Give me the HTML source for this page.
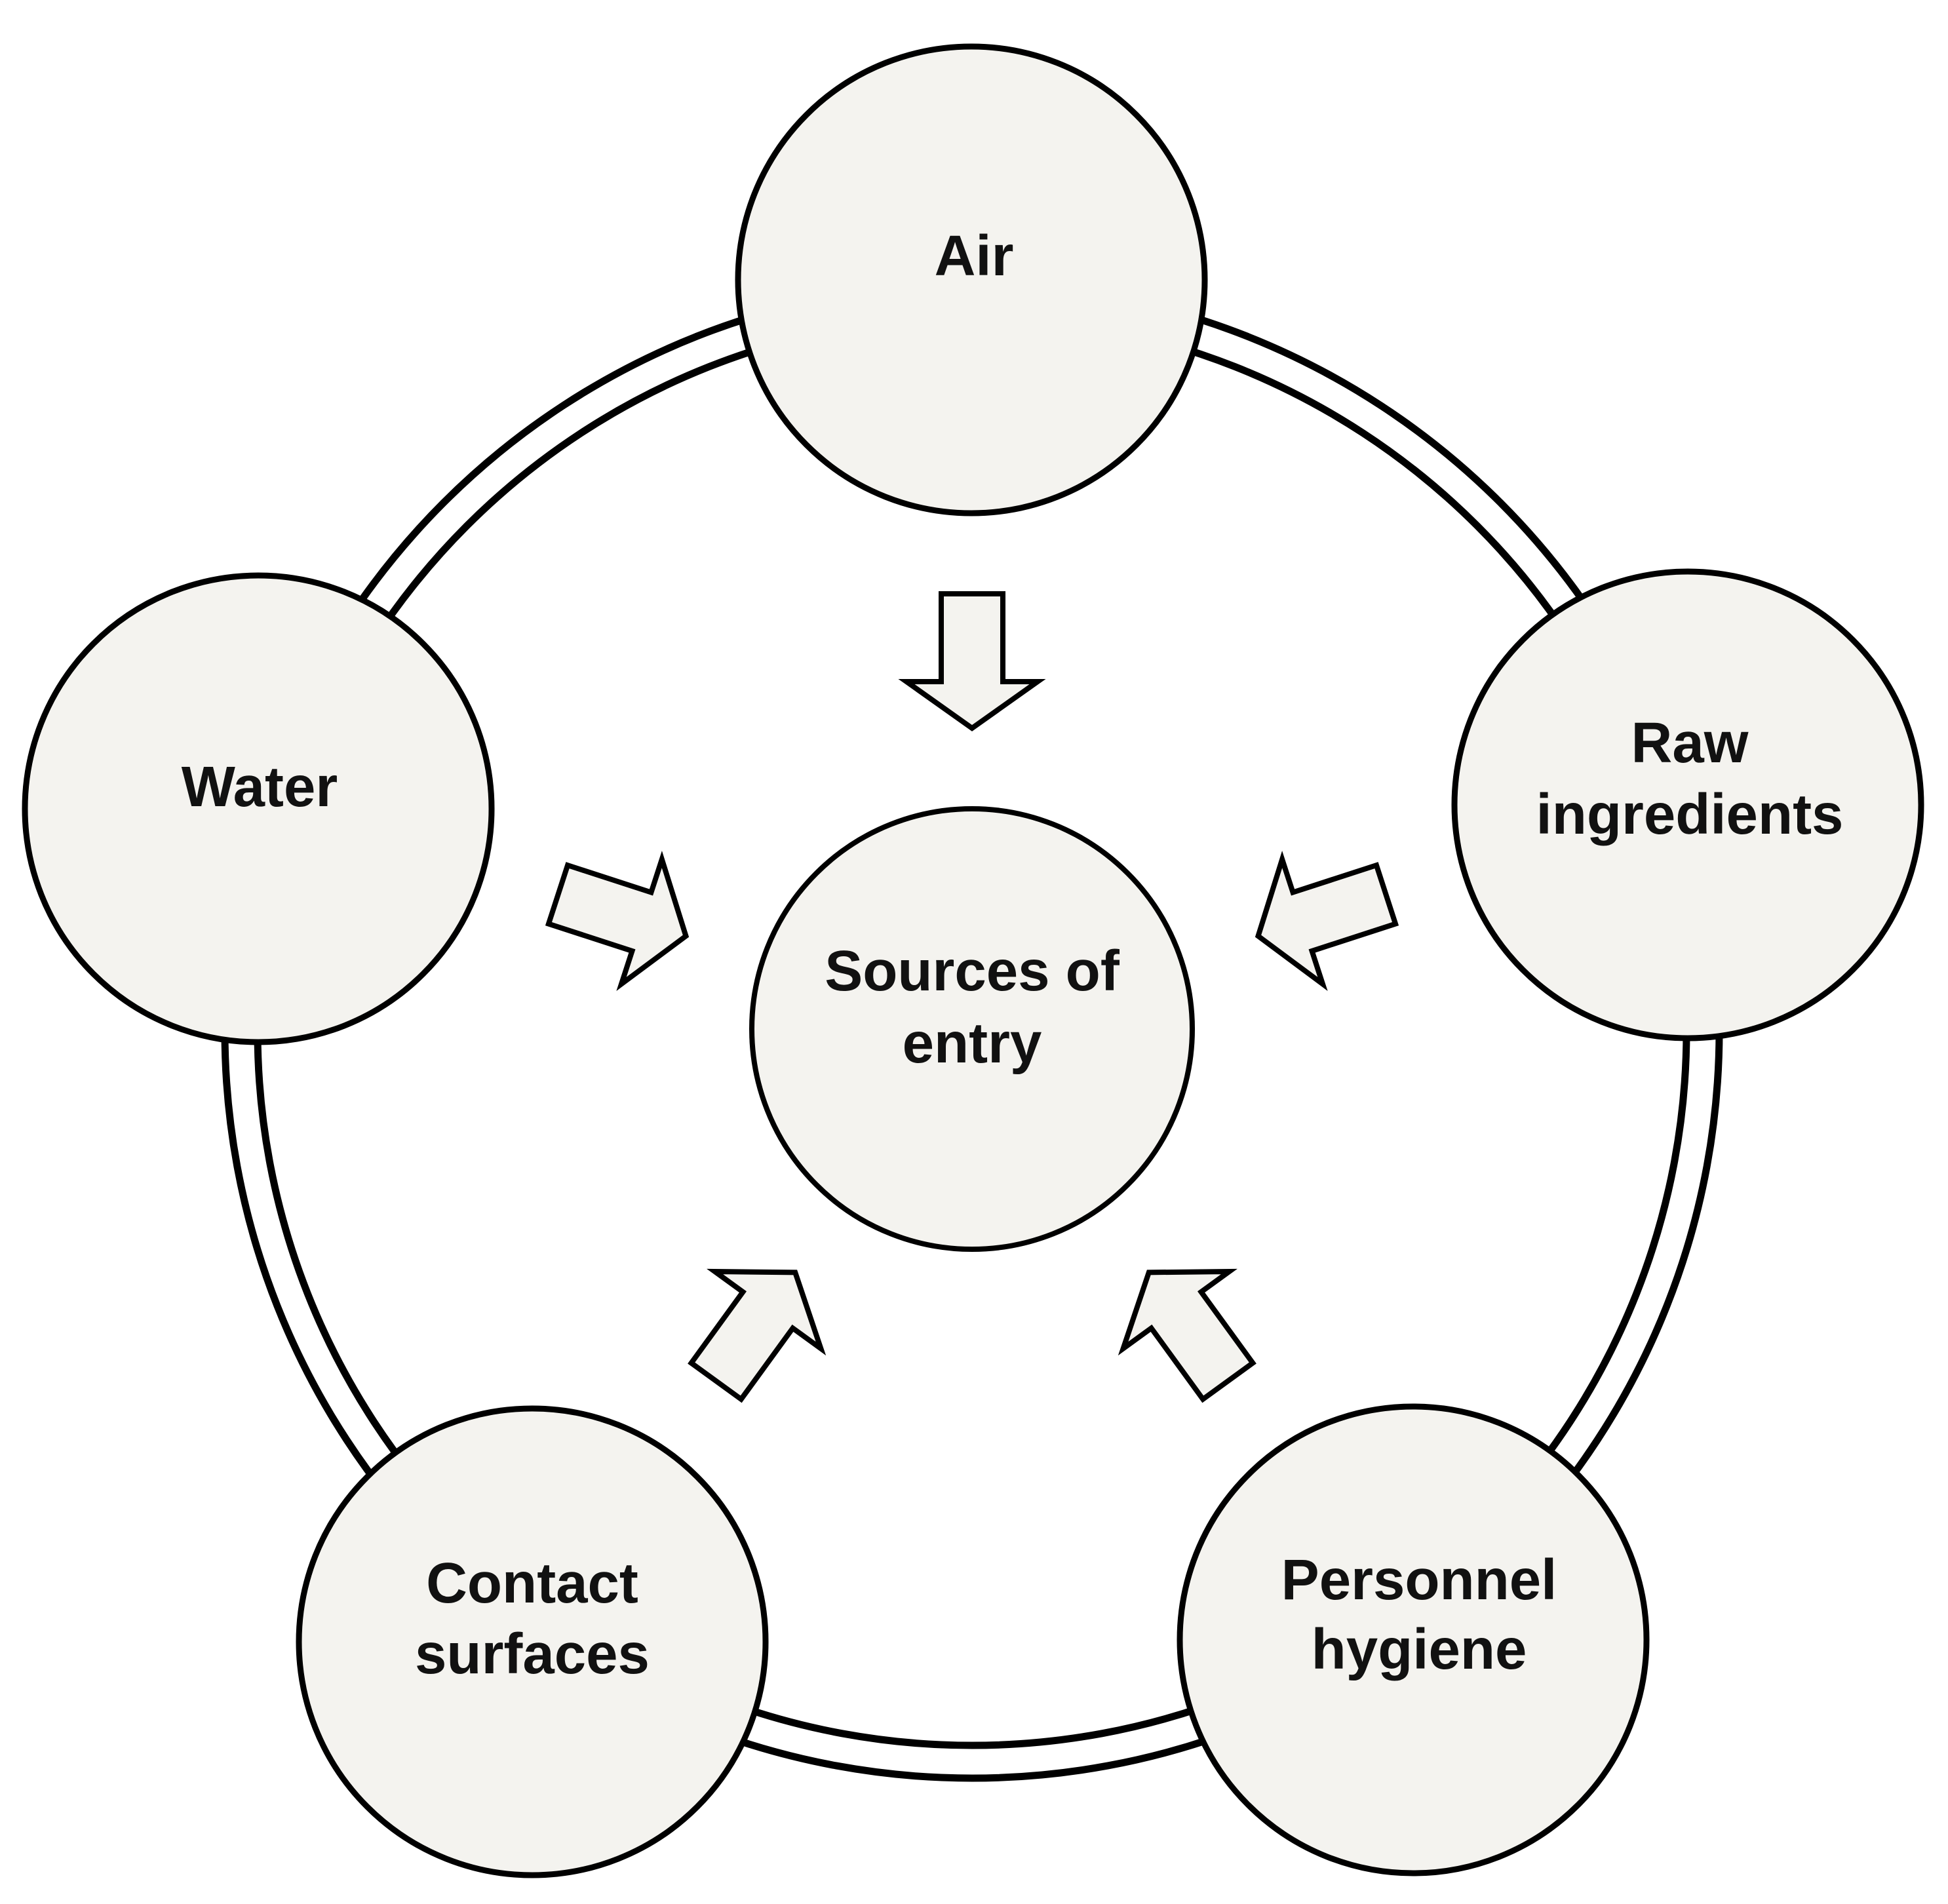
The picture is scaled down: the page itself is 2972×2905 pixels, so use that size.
<!DOCTYPE html>
<html><head><meta charset="utf-8"><style>
html,body{margin:0;padding:0;background:#fff;}
svg{display:block;}
text{font-family:"Liberation Sans",Arial,sans-serif;font-weight:bold;font-size:87px;fill:#111;text-anchor:middle;}
</style></head><body>
<svg width="2972" height="2905" viewBox="0 0 2972 2905" xmlns="http://www.w3.org/2000/svg">
<rect width="2972" height="2905" fill="#fff"/>
<!-- double ring -->
<circle cx="1483" cy="1573" r="1140" fill="none" stroke="#000" stroke-width="11"/>
<circle cx="1483" cy="1573" r="1090" fill="none" stroke="#000" stroke-width="11"/>
<!-- arrows -->
<g transform="translate(1483,1570)" fill="#f4f3ef" stroke="#000" stroke-width="8" stroke-linejoin="miter">
<path id="arr" d="M-47,-664 L47,-664 L47,-530 L100,-530 L0,-459 L-100,-530 L-47,-530 Z"/>
<use href="#arr" transform="rotate(72)"/>
<use href="#arr" transform="rotate(144)"/>
<use href="#arr" transform="rotate(-72)"/>
<use href="#arr" transform="rotate(-144)"/>
</g>
<!-- nodes -->
<g fill="#f4f3ef" stroke="#000" stroke-width="9">
<circle cx="1482" cy="427" r="356"/>
<circle cx="394" cy="1234" r="356"/>
<circle cx="2575" cy="1228" r="356"/>
<circle cx="812" cy="2505" r="356"/>
<circle cx="2156" cy="2502" r="356"/>
<circle cx="1483" cy="1570" r="336" stroke-width="8"/>
</g>
<text x="1486" y="420">Air</text>
<text x="396" y="1230">Water</text>
<text x="2578" y="1163">Raw</text>
<text x="2578" y="1272">ingredients</text>
<text x="1483" y="1511">Sources of</text>
<text x="1483" y="1621">entry</text>
<text x="812" y="2445">Contact</text>
<text x="812" y="2553">surfaces</text>
<text x="2165" y="2440">Personnel</text>
<text x="2165" y="2546">hygiene</text>
</svg>
</body></html>
